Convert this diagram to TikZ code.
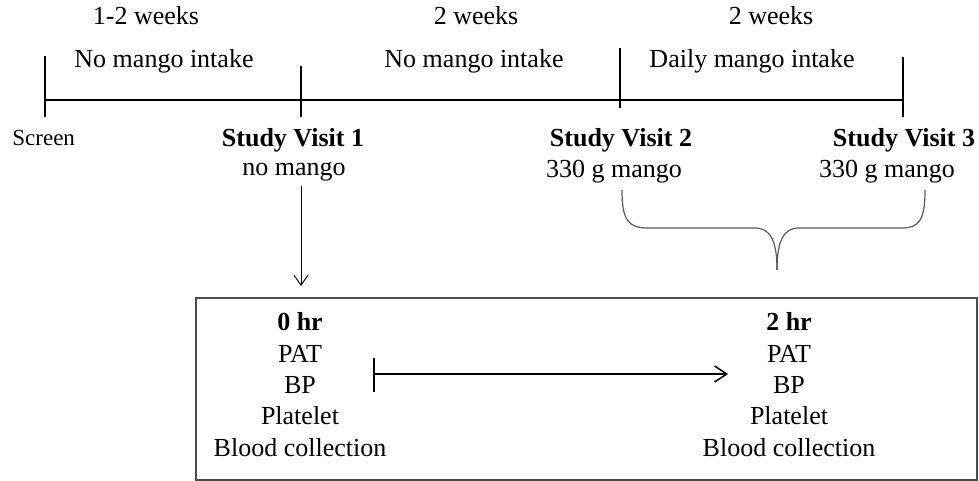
\documentclass[tikz,border=0pt]{standalone}
\usepackage{fontspec}
\setmainfont{Liberation Serif}
\usetikzlibrary{arrows.meta}
\begin{document}
\begin{tikzpicture}[x=0.5pt,y=-0.5pt,
  lbl/.style={font=\fontsize{13}{15}\selectfont, anchor=base, inner sep=0pt},
  small/.style={font=\fontsize{11.5}{13}\selectfont, anchor=base west, inner sep=0pt},
  tl/.style={line width=1pt, black},
  tick/.style={line width=1pt, black},
  thinarrow/.style={line width=0.5pt, -{Straight Barb[length=5pt,width=7pt]}},
  brace/.style={line width=0.6pt, draw=black!65},
  boxstyle/.style={draw=black!70, line width=0.75pt, inner sep=0pt, minimum width=390.5pt, minimum height=91pt},
  inarrow/.style={line width=0.75pt, -{Straight Barb[length=6pt,width=8pt]}}]
\useasboundingbox (0,0) rectangle (979,481);
% timeline
\coordinate (t0) at (45,100);
\coordinate (t1) at (301,100);
\coordinate (t2) at (620,100);
\coordinate (t3) at (903,100);
\draw[tl] (t0) -- (t3);
\coordinate (k0a) at (45,56); \coordinate (k0b) at (45,117);
\coordinate (k1a) at (301,66); \coordinate (k1b) at (301,117);
\coordinate (k2a) at (620,48); \coordinate (k2b) at (620,108);
\coordinate (k3a) at (903,57); \coordinate (k3b) at (903,117);
\draw[tick] (k0a) -- (k0b);
\draw[tick] (k1a) -- (k1b);
\draw[tick] (k2a) -- (k2b);
\draw[tick] (k3a) -- (k3b);
% period labels
\node[lbl] (w1) at (146,25) {1-2 weeks};
\node[lbl] (p1) at (164,68) {No mango intake};
\node[lbl] (w2) at (476,25) {2 weeks};
\node[lbl] (p2) at (474,68) {No mango intake};
\node[lbl] (w3) at (771,25) {2 weeks};
\node[lbl] (p3) at (752,68) {Daily mango intake};
% visits
\node[small] (scr) at (12,146) {Screen};
\node[lbl] (v1) at (293,147) {\textbf{Study Visit 1}};
\node[lbl] (v1m) at (294,176) {no mango};
\node[lbl] (v2) at (621,147) {\textbf{Study Visit 2}};
\node[lbl] (v2m) at (614,177) {330 g mango};
\node[lbl] (v3) at (904,147) {\textbf{Study Visit 3}};
\node[lbl] (v3m) at (887,177) {330 g mango};
% arrow from visit 1
\coordinate (a1s) at (301,186);
\coordinate (a1e) at (301,286);
\draw[thinarrow] (a1s) -- (a1e);
% brace
\coordinate (bl) at (622,190);
\coordinate (br) at (925,190);
\coordinate (btip) at (777,270);
\draw[brace] (bl) .. controls (622,220) and (628,228) .. (648,228)
  -- (755,228) .. controls (770,228) and (777,240) .. (btip);
\draw[brace] (br) .. controls (925,220) and (919,228) .. (902,228)
  -- (799,228) .. controls (784,228) and (777,240) .. (btip);
% box
\node[boxstyle] (box) at (586.5,389) {};
% left column
\node[lbl] (h0) at (300,330) {\textbf{0 hr}};
\node[lbl] (pat0) at (300,362) {PAT};
\node[lbl] (bp0) at (300,393) {BP};
\node[lbl] (pl0) at (300,424) {Platelet};
\node[lbl] (bc0) at (300,456) {Blood collection};
% right column
\node[lbl] (h2) at (789,330) {\textbf{2 hr}};
\node[lbl] (pat2) at (789,362) {PAT};
\node[lbl] (bp2) at (789,393) {BP};
\node[lbl] (pl2) at (789,424) {Platelet};
\node[lbl] (bc2) at (789,456) {Blood collection};
% inner arrow
\coordinate (bar1) at (374,358);
\coordinate (bar2) at (374,392);
\coordinate (as) at (374,374);
\coordinate (ae) at (728,374);
\draw[line width=0.9pt] (bar1) -- (bar2);
\draw[inarrow] (as) -- (ae);
\end{tikzpicture}
\end{document}
